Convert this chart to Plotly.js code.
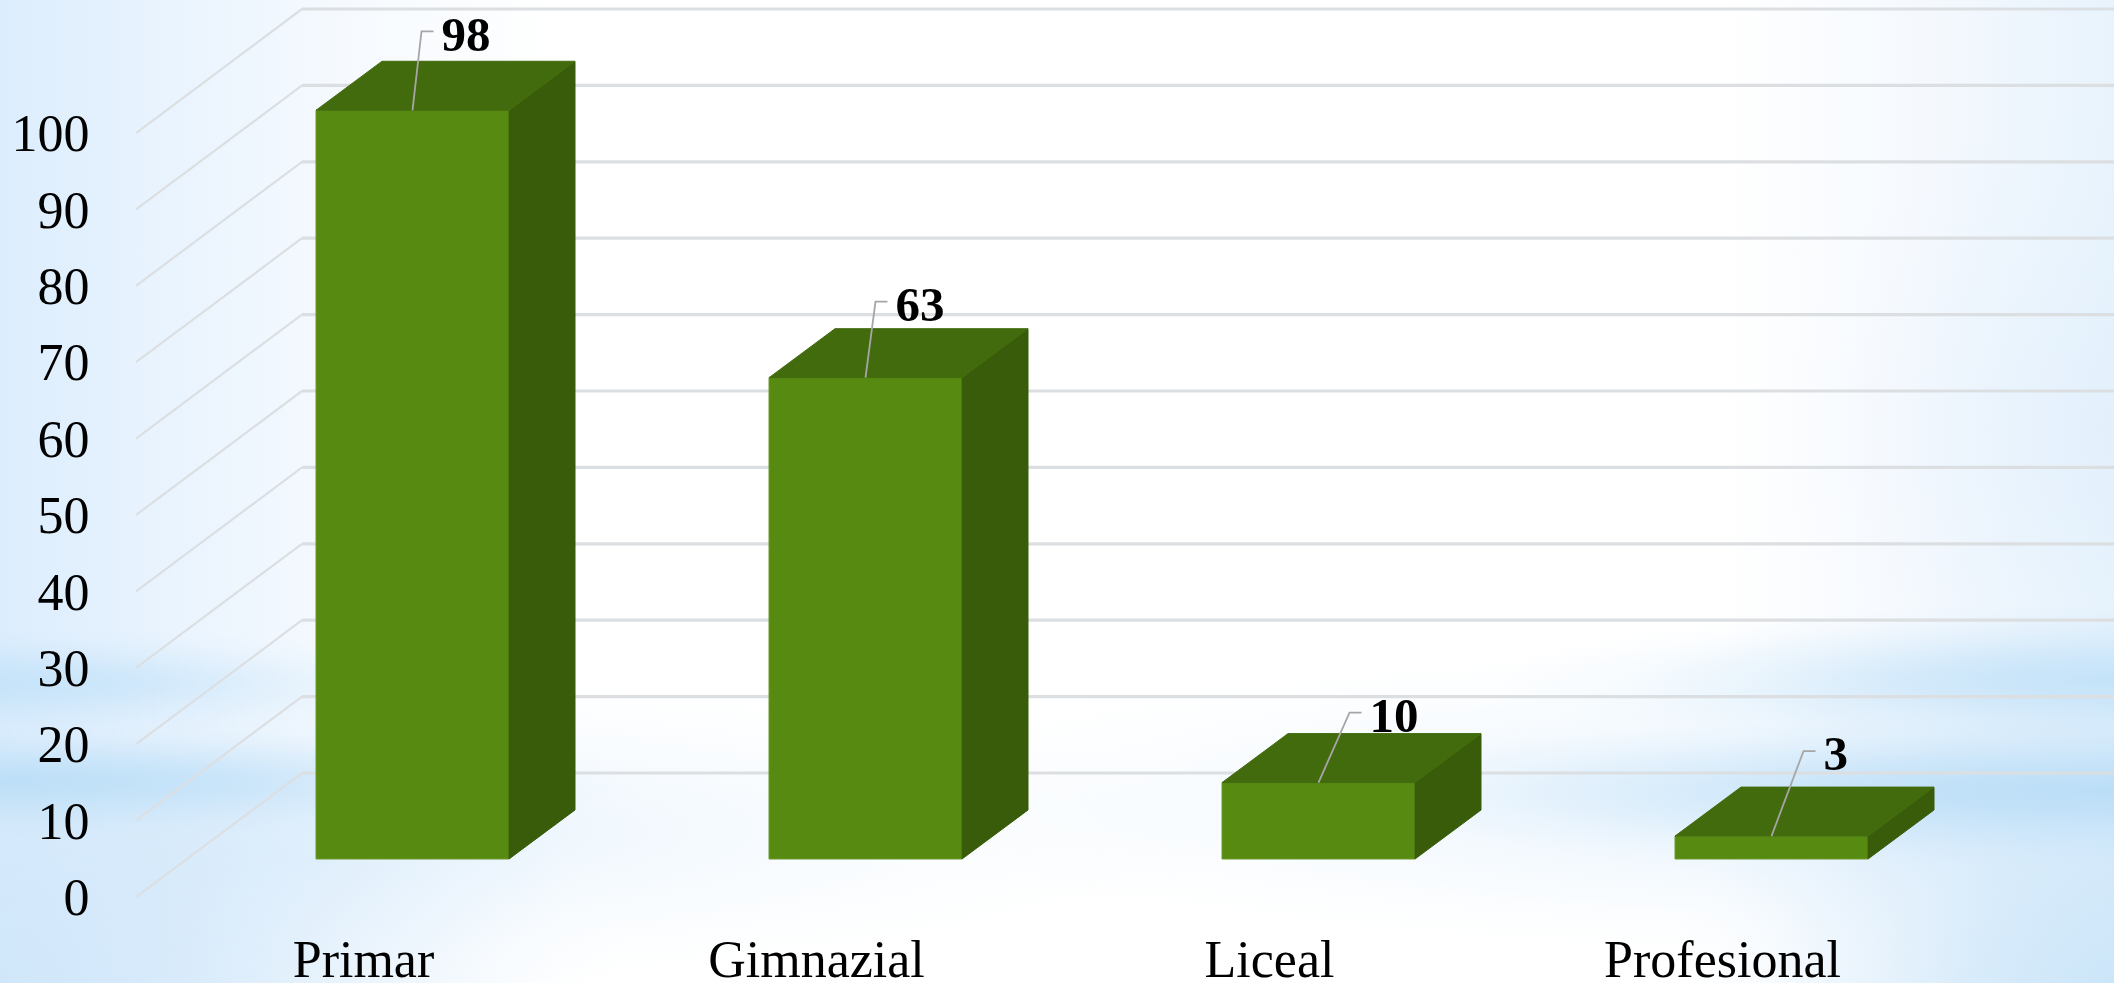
<!DOCTYPE html>
<html><head><meta charset="utf-8">
<script src="https://cdn.plot.ly/plotly-3.0.1.min.js"></script>
<style>
html,body{margin:0;padding:0;width:2114px;height:983px;overflow:hidden}
#chart{width:2114px;height:983px}
</style></head><body><div id="chart"></div>
<script>
// data
const categories = ['Primar','Gimnazial','Liceal','Profesional'];
const values = [98,63,10,3];
const yTicks = [0,10,20,30,40,50,60,70,80,90,100];

// page backdrop: soft pale blue patches over a white ground
function blob(cx,cy,rx,ry,c,a){
  const s=(f,p)=>`rgba(${c},${(a*f).toFixed(3)}) ${p}%`;
  return `radial-gradient(ellipse ${rx}px ${ry}px at ${cx}px ${cy}px, ${s(1,0)}, ${s(.72,30)}, ${s(.36,55)}, ${s(.1,80)}, ${s(0,100)})`;
}
document.body.style.background=[
  blob(2114,790,820,75,'184,221,247',.9),
  blob(2114,680,620,75,'190,224,248',.85),
  blob(2114,990,440,300,'196,226,248',.8),
  blob(0,782,640,55,'186,222,247',.9),
  blob(0,683,480,55,'190,224,248',.75),
  blob(0,983,620,300,'205,229,249',.8),
  blob(0,830,1250,170,'214,234,251',.75),
  blob(2114,800,1300,165,'212,233,251',.75),
  blob(2114,430,330,330,'222,238,252',.5),
  'linear-gradient(90deg, #dcedfd 0, #eaf4fe 180px, #f6fafe 350px, #ffffff 560px, #ffffff 1720px, #f5f9fe 1920px, #e8f3fc 2114px)'
].join(',');

// geometry (pixels on the reference converted to axis units)
const unitX = 453, unitY = 7.64;
const left = 136, bottom = 897, cat0 = 363.5;
const xr = [(left-cat0)/unitX, (2114-cat0)/unitX];
const yr = [0, bottom/unitY];
const wallDx = 166/unitX, wallDy = 124/unitY;
const barOffX = 49/unitX, barBase = 38/unitY, barW = 193/unitX;
const depthX = 66/unitX, depthY = 49/unitY;
const labelLift = [79,76,70,85], labelShift = [9,10,31,32], elbow = 12, textGap = 8, textDrop = 7;
const idx = categories.map((_,i)=>i);
const frontL = i => i + barOffX - barW/2;
const frontR = i => i + barOffX + barW/2;
const topY = i => barBase + values[i];

// gridlines behind the bars
const gridColor = '#dcdfe2';
const shapes = [];
yTicks.forEach(v=>{
  shapes.push({type:'line',layer:'below',xref:'x',yref:'y',x0:xr[0],y0:v,x1:xr[0]+wallDx,y1:v+wallDy,line:{color:gridColor,width:2.2}});
  shapes.push({type:'line',layer:'below',xref:'x',yref:'y',x0:xr[0]+wallDx,y0:v+wallDy,x1:xr[1],y1:v+wallDy,line:{color:gridColor,width:3.2}});
});

// bar faces
const faceTrace = (xs,ys,color)=>({type:'scatter',mode:'lines',x:xs,y:ys,fill:'toself',fillcolor:color,line:{color:color,width:1},hoverinfo:'skip',showlegend:false});
const sideX=[],sideY=[],topX=[],topYs=[];
idx.forEach(i=>{
  sideX.push(frontR(i),frontR(i),frontR(i)+depthX,frontR(i)+depthX,frontR(i),null);
  sideY.push(barBase,topY(i),topY(i)+depthY,barBase+depthY,barBase,null);
  topX.push(frontL(i),frontR(i),frontR(i)+depthX,frontL(i)+depthX,frontL(i),null);
  topYs.push(topY(i),topY(i),topY(i)+depthY,topY(i)+depthY,topY(i),null);
});

// leader lines and labels
const leadX=[],leadY=[],labX=[],labY=[];
idx.forEach(i=>{
  const cx=i+barOffX, t=topY(i), ey=t+labelLift[i]/unitY, ex=cx+labelShift[i]/unitX;
  leadX.push(cx,ex,ex+elbow/unitX,null);
  leadY.push(t,ey,ey,null);
  labX.push(ex+(elbow+textGap)/unitX);
  labY.push(ey-textDrop/unitY);
});

const data = [
  {type:'bar',x:idx.map(i=>i+barOffX),y:values,base:barBase,width:barW,marker:{color:'#578a10',line:{color:'#6c9a2c',width:1}},hoverinfo:'skip',showlegend:false},
  faceTrace(sideX,sideY,'#385c09'),
  faceTrace(topX,topYs,'#426b0d'),
  {type:'scatter',mode:'lines',x:leadX,y:leadY,line:{color:'#a6a6a6',width:1.8},hoverinfo:'skip',showlegend:false},
  {type:'scatter',mode:'text',x:labX,y:labY,text:values.map(String),textposition:'middle right',
   textfont:{family:'"Liberation Serif",serif',size:49,color:'#000000',weight:700},hoverinfo:'skip',showlegend:false}
];
const tickFont = {family:'"Liberation Serif",serif',size:52,color:'#000000'};
const layout = {
  width:2114,height:983,margin:{l:left,r:0,t:0,b:983-bottom,pad:0},
  paper_bgcolor:'rgba(0,0,0,0)',plot_bgcolor:'rgba(0,0,0,0)',showlegend:false,shapes,
  xaxis:{range:xr,tickmode:'array',tickvals:idx,ticktext:categories,showgrid:false,zeroline:false,showline:false,
         ticks:'outside',ticklen:17,tickcolor:'rgba(0,0,0,0)',tickfont:tickFont,automargin:false,fixedrange:true},
  yaxis:{range:yr,tickmode:'array',tickvals:yTicks,ticktext:yTicks.map(String),showgrid:false,zeroline:false,showline:false,
         ticks:'outside',ticklen:35,tickcolor:'rgba(0,0,0,0)',tickfont:tickFont,automargin:false,fixedrange:true}
};
Plotly.newPlot('chart',data,layout,{displayModeBar:false,staticPlot:true});
</script></body></html>
